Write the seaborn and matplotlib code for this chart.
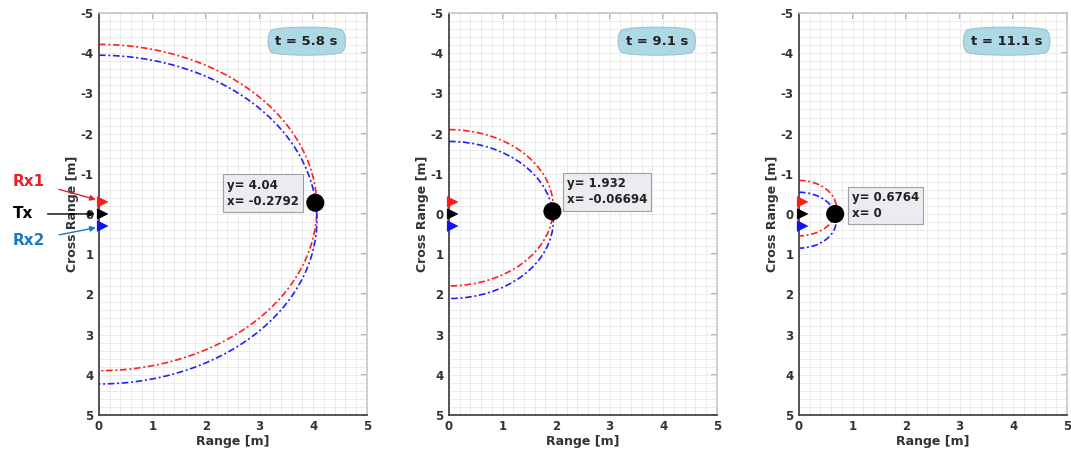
import matplotlib.pyplot as plt
import numpy as np
import pandas as pd
import seaborn as sb
from matplotlib.patches import Arc
from matplotlib.ticker import MultipleLocator

#Chart data
times = ['5.8', '9.1', '11.1']
rx_names = ['Rx1', 'Tx', 'Rx2']
rx_cross = [-0.3, 0.0, 0.3]
rx_colors = ['#ff1a1a', '#000000', '#1010ff']
#ellipse centre (cross range) and semi axes for the red (Rx1) and blue (Rx2) curves
red_center = [-0.16, -0.155, -0.145]
blue_center = [0.14, 0.15, 0.155]
red_semi = [4.06, 1.945, 0.69]
blue_semi = [4.09, 1.955, 0.695]
range_semi = [4.07, 1.95, 0.70]
#datatip points
dot_range = ['4.04', '1.932', '0.6764']
dot_cross = ['-0.2792', '-0.06694', '0']
tip_x = [2.4, 2.2, 0.99]
tip_y = [-0.52, -0.55, -0.22]

sb.set_theme(style = 'white')
plt.rcParams['font.family'] = ['DejaVu Sans']
plt.rcParams['axes.unicode_minus'] = False

fig = plt.figure(figsize = (10.71, 4.5), dpi = 100)
lefts = [0.0924, 0.4192, 0.746]
axes = [fig.add_axes([l, 0.078, 0.25, 0.893]) for l in lefts]

rx_df = pd.DataFrame({'name': rx_names, 'range': [0.07] * 3, 'cross': rx_cross})
dashdot = (0, (4, 1.6, 1.2, 1.6))

for i, ax in enumerate(axes):
    #Curves
    ax.add_patch(Arc((0, red_center[i]), 2 * range_semi[i], 2 * red_semi[i], theta1 = -90, theta2 = 90,
                     color = '#ff2020', lw = 1.2, ls = dashdot))
    ax.add_patch(Arc((0, blue_center[i]), 2 * range_semi[i], 2 * blue_semi[i], theta1 = -90, theta2 = 90,
                     color = '#2020ff', lw = 1.2, ls = dashdot))

    #Tx / Rx markers
    sb.scatterplot(data = rx_df, x = 'range', y = 'cross', hue = 'name', palette = rx_colors,
                   marker = '>', s = 70, edgecolor = 'none', legend = False, ax = ax, clip_on = False, zorder = 5)

    #Datatip point
    dot = pd.DataFrame({'range': [float(dot_range[i])], 'cross': [float(dot_cross[i])]})
    sb.scatterplot(data = dot, x = 'range', y = 'cross', color = 'black', s = 170, edgecolor = 'none',
                   legend = False, ax = ax, zorder = 6)
    ax.text(tip_x[i], tip_y[i], 'y= %s\nx= %s' % (dot_range[i], dot_cross[i]), ha = 'left', va = 'center',
            fontsize = 8.5, fontweight = 'bold', color = '#222222', linespacing = 1.3, zorder = 7,
            bbox = dict(boxstyle = 'square,pad=0.35', fc = '#ececf0', ec = '#a0a0a0', lw = 0.8))

    #Time box
    ax.text(3.88, -4.3, 't = %s s' % times[i], ha = 'center', va = 'center', fontsize = 9.5,
            fontweight = 'bold', color = '#222222', zorder = 7,
            bbox = dict(boxstyle = 'round4,pad=0.65', fc = '#add8e6', ec = '#9cc3cf', lw = 0.8))

    #Axes formatting
    ax.set_xlim(0, 5)
    ax.set_ylim(5, -5)
    ax.xaxis.set_major_locator(MultipleLocator(1))
    ax.yaxis.set_major_locator(MultipleLocator(1))
    ax.xaxis.set_minor_locator(MultipleLocator(0.2))
    ax.yaxis.set_minor_locator(MultipleLocator(0.2))
    ax.grid(True, which = 'both', color = '#e8e8e8', lw = 0.6)
    ax.set_axisbelow(True)
    ax.tick_params(which = 'major', direction = 'in', length = 4, labelsize = 8.5, colors = '#333333', pad = 4)
    ax.tick_params(which = 'minor', length = 0)
    for lab in ax.get_xticklabels() + ax.get_yticklabels():
        lab.set_fontweight('bold')
    for side in ['left', 'bottom']:
        ax.spines[side].set_color('#404040')
    for side in ['top', 'right']:
        ax.spines[side].set_color('#c8c8c8')
    #faint ticks on the top and right box edges
    top = ax.secondary_xaxis('top')
    top.xaxis.set_major_locator(MultipleLocator(1))
    top.tick_params(direction = 'in', length = 4, color = '#a8a8a8', labeltop = False)
    top.spines['top'].set_visible(False)
    right = ax.secondary_yaxis('right')
    right.yaxis.set_major_locator(MultipleLocator(1))
    right.tick_params(direction = 'in', length = 4, color = '#a8a8a8', labelright = False)
    right.spines['right'].set_visible(False)
    ax.set_xlabel('Range [m]', fontsize = 9, fontweight = 'bold', color = '#333333', labelpad = 1)
    ax.set_ylabel('Cross Range [m]', fontsize = 9, fontweight = 'bold', color = '#333333', labelpad = 1)

#Labels for transmitter and receivers on the first panel
label_pos = [(-1.31, -0.82), (-1.42, 0.0), (-1.31, 0.67)]
label_colors = ['#e8202a', '#000000', '#1a78c2']
arrow_tips = [(-0.06, -0.36), (-0.08, 0.0), (-0.06, 0.34)]
for name, pos, col, tip in zip(rx_names, label_pos, label_colors, arrow_tips):
    axes[0].annotate(name, xy = tip, xytext = pos, ha = 'center', va = 'center', fontsize = 11,
                     fontweight = 'bold', color = col, annotation_clip = False,
                     arrowprops = dict(arrowstyle = '-|>', color = col, lw = 1, shrinkA = 8, shrinkB = 0,
                                       mutation_scale = 8))

plt.savefig('out.png', dpi = 100)
